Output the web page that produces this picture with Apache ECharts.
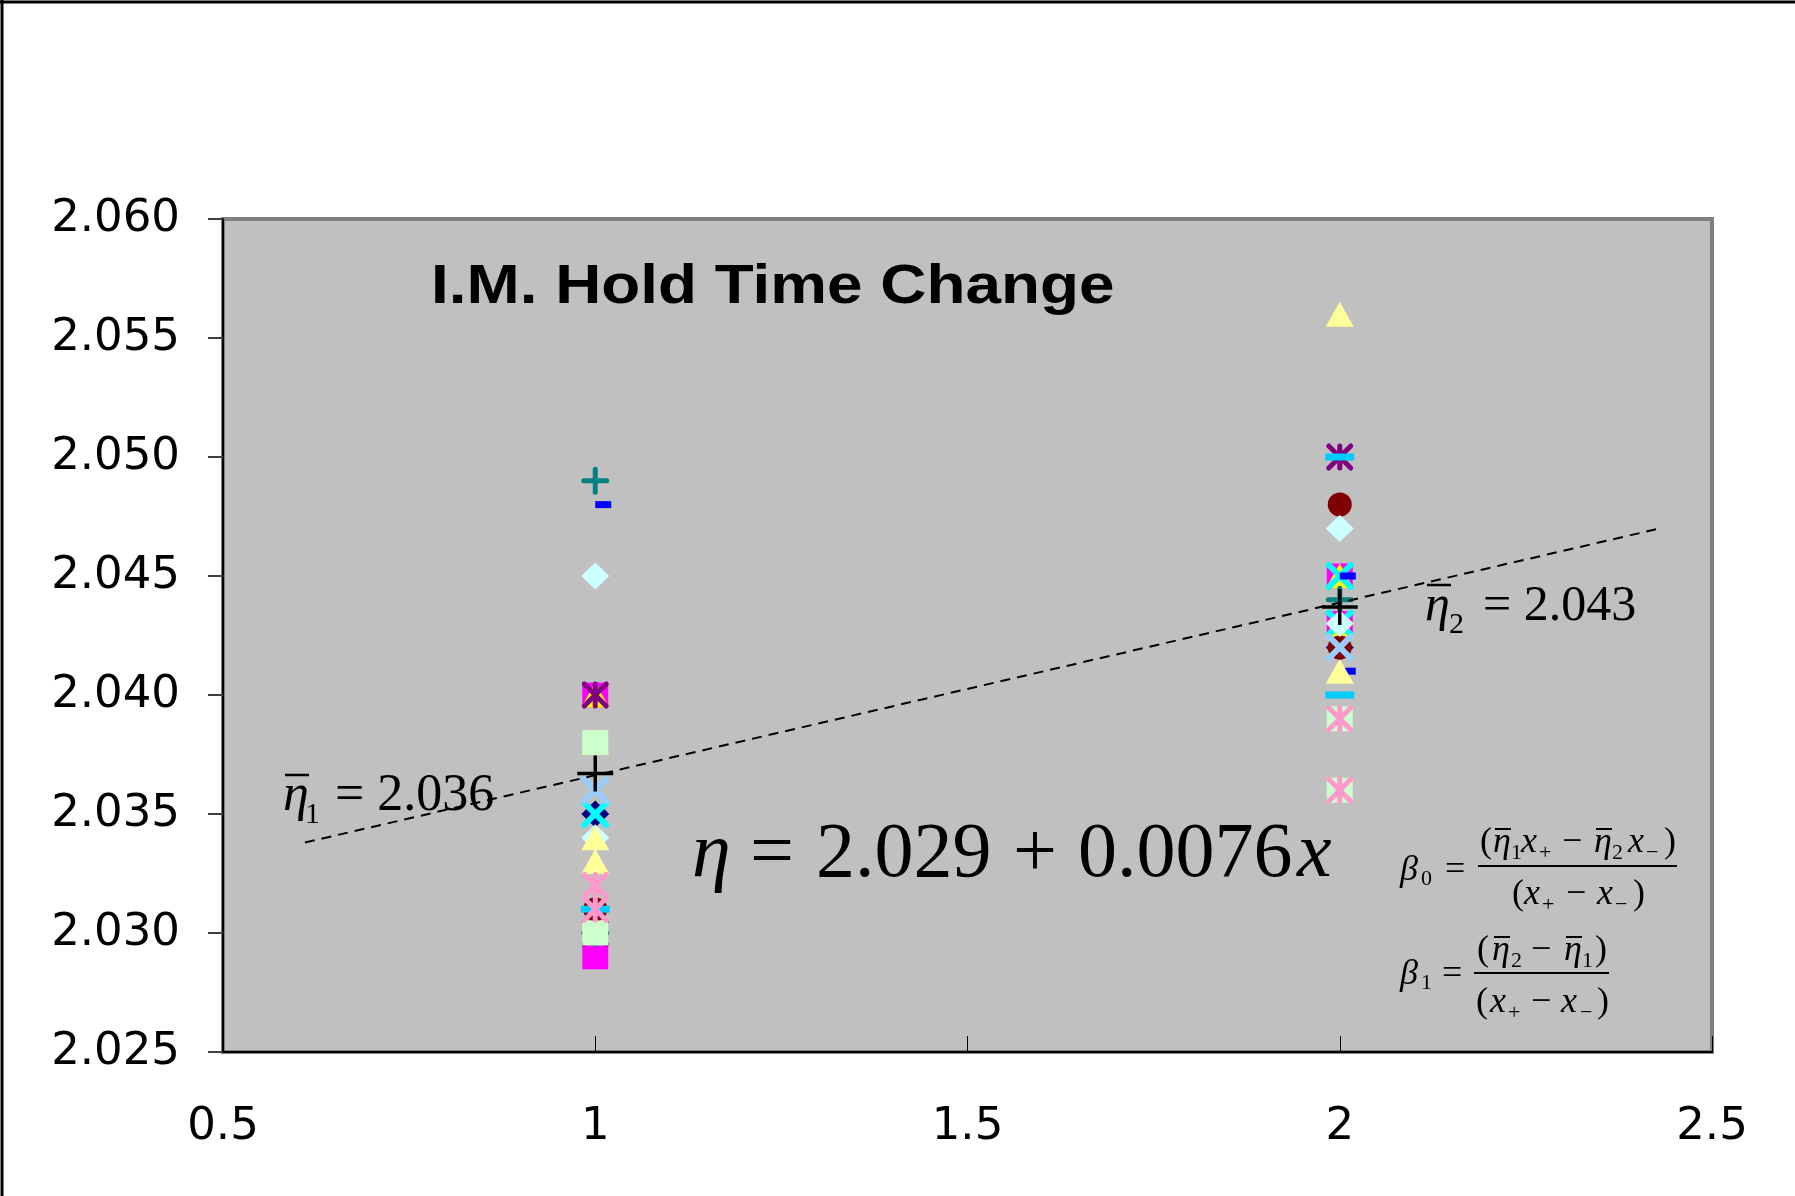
<!DOCTYPE html>
<html>
<head>
<meta charset="utf-8">
<script src="https://cdn.jsdelivr.net/npm/echarts@6/dist/echarts.min.js"></script>
<style>
html,body{margin:0;padding:0;background:#fff;}
#chart{width:1795px;height:1196px;}
</style>
</head>
<body>
<div id="chart"></div>
<script>
// ---- data (x = factor level, y = response) ----
const xTicks = [0.5, 1, 1.5, 2, 2.5];
const yTicks = [2.025, 2.030, 2.035, 2.040, 2.045, 2.050, 2.055, 2.060];
const navyDiamond = [[1, 2.035], [2, 2.042]];
const magentaSquare = [[1, 2.040], [1, 2.029], [2, 2.045], [2, 2.043]];
const yellowTriangle = [[1, 2.040], [1, 2.038], [2, 2.045], [2, 2.043]];
const cyanCross = [[1, 2.035], [2, 2.045], [2, 2.043]];
const purpleStar = [[1, 2.040], [1, 2.030], [2, 2.050]];
const maroonCircle = [[1, 2.031], [2, 2.048], [2, 2.042]];
const tealPlus = [[1, 2.049], [1, 2.030], [2, 2.044]];
const blueShortDash = [[1, 2.048], [2, 2.045], [2, 2.041]];
const skyDash = [[1, 2.031], [2, 2.050], [2, 2.040]];
const turquoiseDiamond = [[1, 2.045], [1, 2.034], [2, 2.047], [2, 2.043]];
const greenSquare = [[1, 2.038], [1, 2.030], [2, 2.039], [2, 2.036]];
const lightYellowTriangle = [[1, 2.034], [1, 2.033], [2, 2.056], [2, 2.041]];
const paleBlueCross = [[1, 2.036], [2, 2.042]];
const roseStar = [[1, 2.032], [1, 2.031], [2, 2.039], [2, 2.036]];
const levelMeans = [[1, 2.0367], [2, 2.0437]];
const fitLine = [[0.61, 2.0338], [2.43, 2.0470]];

const X_PATH = 'path://M0,0L10,10M10,0L0,10';
const STAR_PATH = 'path://M0,0L10,10M10,0L0,10M5,0L5,10';
const PLUS_PATH = 'path://M5,0L5,10M0,5L10,5';

function sc(name, data, symbol, size, color, extra) {
  const s = {
    name: name, type: 'scatter', data: data, symbol: symbol, symbolSize: size,
    itemStyle: { color: color, opacity: 1 },
    emphasis: { disabled: true }, silent: true, animation: false
  };
  return Object.assign(s, extra || {});
}
function stroked(color, w, cap) {
  return { color: color, borderColor: color, borderWidth: w, borderCap: cap || 'round', opacity: 1 };
}

const series = [
  sc('s1', navyDiamond, 'diamond', [28, 27], '#000080'),
  sc('s2', magentaSquare, 'rect', [26, 25], '#FF00FF'),
  sc('s3', yellowTriangle, 'triangle', [28, 25], '#FFFF00'),
  sc('s4', cyanCross, X_PATH, 22, '#00FFFF', { itemStyle: stroked('#00FFFF', 6) }),
  sc('s5', purpleStar, STAR_PATH, 22, '#800080', { itemStyle: stroked('#800080', 5) }),
  sc('s6', maroonCircle, 'circle', 24, '#800000'),
  sc('s7', tealPlus, PLUS_PATH, 23, '#008080', { itemStyle: stroked('#008080', 5) }),
  sc('s8', blueShortDash, 'rect', [16, 7], '#0000FF', { symbolOffset: [8, 0] }),
  sc('s9', skyDash, 'rect', [29, 7], '#00CCFF'),
  sc('s10', turquoiseDiamond, 'diamond', [28, 27], '#CCFFFF'),
  sc('s11', greenSquare, 'rect', [26, 25], '#CCFFCC'),
  sc('s12', lightYellowTriangle, 'triangle', [28, 25], '#FFFF99'),
  sc('s13', paleBlueCross, X_PATH, 22, '#99CCFF', { itemStyle: stroked('#99CCFF', 6) }),
  sc('s14', roseStar, STAR_PATH, 22, '#FF99CC', { itemStyle: stroked('#FF99CC', 5) }),
  {
    name: 'fit', type: 'line', data: fitLine, symbol: 'none', silent: true, animation: false,
    lineStyle: { color: '#000', width: 2, type: [10, 7] }, z: 3
  },
  sc('mean', levelMeans, PLUS_PATH, 36, '#000', { itemStyle: stroked('#000', 3.5, 'butt'), z: 4 })
];

// ---- annotation text helpers ----
const SERIF = '"Liberation Serif", "Times New Roman", serif';
function T(x, base, txt, size, italic) {
  return {
    type: 'text', x: x, y: base - 0.34 * size + 3, z: 100, silent: true,
    style: { text: txt, font: (italic ? 'italic ' : '') + size + 'px ' + SERIF, fill: '#000', align: 'left', verticalAlign: 'middle' }
  };
}
function L(x1, y1, x2, y2, w) {
  return { type: 'line', z: 100, silent: true, shape: { x1: x1, y1: y1, x2: x2, y2: y2 }, style: { stroke: '#000', lineWidth: w || 2 } };
}

const graphics = [
  // outer frame (top & left edges)
  L(0, 2, 1795, 2, 3), L(2, 0, 2, 1196, 3),
  // title
  {
    type: 'text', x: 431, y: 302 - 0.3465 * 56 + 5, scaleX: 1.14, z: 100, silent: true,
    style: { text: 'I.M. Hold Time Change', font: 'bold 56px "Liberation Sans", Arial, sans-serif', fill: '#000', align: 'left', verticalAlign: 'middle' }
  },
  // eta bar 1
  T(283, 811, 'η', 52, true), L(285, 775, 309, 775, 2.5), T(305, 822, '1', 30), T(335, 811, '= 2.036', 52),
  // eta bar 2
  T(1425, 621, 'η', 50, true), L(1427, 585, 1451, 585, 2.5), T(1449, 632, '2', 30), T(1483, 621, '= 2.043', 50),
  // fitted equation
  T(692, 879, 'η', 78, true), T(750, 879, '=', 78), T(816, 879, '2.029', 78), T(1013, 879, '+', 78),
  T(1078, 879, '0.0076', 78), T(1297, 879, 'x', 78, true),
  // beta 0
  T(1400, 880, 'β', 36, true), T(1421, 884, '0', 22), T(1445, 880, '=', 36), L(1478, 866, 1677, 866, 2),
  T(1480, 852, '(', 36), T(1493, 852, 'η', 36, true), L(1495, 829, 1511, 829, 2), T(1511, 858, '1', 22),
  T(1521, 852, 'x', 36, true), T(1539, 858, '+', 22), T(1562, 852, '−', 36),
  T(1594, 852, 'η', 36, true), L(1596, 829, 1612, 829, 2), T(1612, 858, '2', 22),
  T(1628, 852, 'x', 36, true), T(1646, 858, '−', 22), T(1664, 852, ')', 36),
  T(1512, 904, '(', 36), T(1524, 904, 'x', 36, true), T(1542, 910, '+', 22), T(1566, 904, '−', 36),
  T(1597, 904, 'x', 36, true), T(1615, 910, '−', 22), T(1633, 904, ')', 36),
  // beta 1
  T(1400, 984, 'β', 36, true), T(1421, 988, '1', 22), T(1442, 984, '=', 36), L(1474, 973, 1609, 973, 2),
  T(1477, 960, '(', 36), T(1492, 960, 'η', 36, true), L(1494, 937, 1510, 937, 2), T(1511, 966, '2', 22),
  T(1531, 960, '−', 36), T(1564, 960, 'η', 36, true), L(1566, 937, 1582, 937, 2), T(1582, 966, '1', 22),
  T(1595, 960, ')', 36),
  T(1476, 1012, '(', 36), T(1490, 1012, 'x', 36, true), T(1508, 1018, '+', 22), T(1531, 1012, '−', 36),
  T(1561, 1012, 'x', 36, true), T(1580, 1018, '−', 22), T(1597, 1012, ')', 36)
];

const chart = echarts.init(document.getElementById('chart'), null, { renderer: 'canvas' });
chart.setOption({
  animation: false,
  backgroundColor: '#ffffff',
  grid: {
    left: 223, right: 83, top: 219, bottom: 144, show: true,
    backgroundColor: '#C0C0C0', borderColor: '#808080', borderWidth: 4
  },
  xAxis: {
    type: 'value', min: xTicks[0], max: xTicks[xTicks.length - 1], interval: 0.5,
    splitLine: { show: false },
    axisLine: { show: true, onZero: false, lineStyle: { color: '#000', width: 2 } },
    axisTick: { show: true, inside: true, length: 16, lineStyle: { color: '#000', width: 1 } },
    axisLabel: { margin: 53, fontFamily: '"DejaVu Sans", sans-serif', fontSize: 45, color: '#000', showMinLabel: true, showMaxLabel: true }
  },
  yAxis: {
    type: 'value', min: yTicks[0], max: yTicks[yTicks.length - 1], interval: 0.005,
    splitLine: { show: false },
    axisLine: { show: true, onZero: false, lineStyle: { color: '#000', width: 2 } },
    axisTick: { show: true, inside: false, length: 15, lineStyle: { color: '#404040', width: 2 } },
    axisLabel: {
      margin: 43, fontFamily: '"DejaVu Sans", sans-serif', fontSize: 45, color: '#000',
      padding: [9, 0, 0, 0],
      formatter: function (v) { return v.toFixed(3); }
    }
  },
  series: series,
  graphic: { elements: graphics }
});
</script>
</body>
</html>
